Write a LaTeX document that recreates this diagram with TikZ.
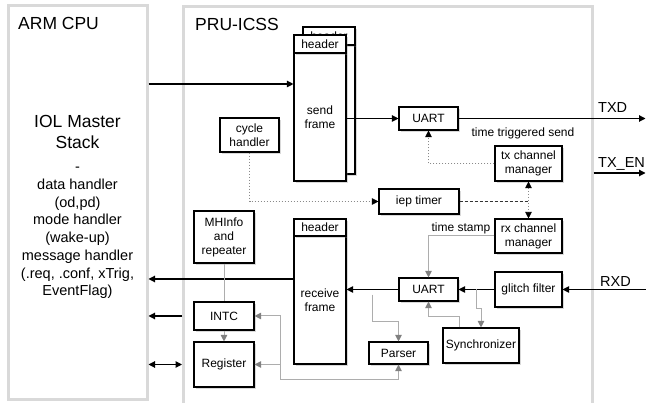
\documentclass[tikz,border=0pt]{standalone}
\usepackage{fontspec}
\setmainfont{Liberation Sans}
\usetikzlibrary{arrows.meta,shadows,calc}
\definecolor{frameg}{HTML}{D9D9D9}
\definecolor{lineg}{HTML}{ADADAD}
\definecolor{headg}{HTML}{808080}
\definecolor{dotg}{HTML}{8A8A8A}
\begin{document}
\begin{tikzpicture}[x=1pt,y=-1pt,
  blk/.style={draw=black, line width=1.1pt, fill=white, inner sep=0pt, align=center,
    font=\fontsize{12}{14}\selectfont,
    drop shadow={shadow xshift=1.6pt, shadow yshift=-1.6pt, opacity=0.3}},
  outer/.style={draw=frameg, line width=3pt, inner sep=0pt},
  ttl/.style={font=\fontsize{17.5}{21}\selectfont, inner sep=0pt},
  big/.style={font=\fontsize{17.5}{21}\selectfont, inner sep=0pt},
  small/.style={font=\fontsize{14.5}{18}\selectfont, inner sep=0pt},
  sig/.style={font=\fontsize{14.5}{18}\selectfont, inner sep=0pt},
  lbl/.style={font=\fontsize{12}{14}\selectfont, inner sep=0pt},
  arr/.style={line width=1.1pt, -{Triangle[length=6.5pt,width=6.5pt]}},
  darr/.style={line width=1.1pt, {Triangle[length=6.5pt,width=6.5pt]}-{Triangle[length=6.5pt,width=6.5pt]}},
  garr/.style={draw=lineg, line width=1pt, -{Triangle[length=6.5pt,width=6.5pt,color=headg]}},
  gline/.style={draw=lineg, line width=1pt},
  dotl/.style={draw=dotg, line width=0.8pt, dash pattern=on 1.5pt off 1.5pt, -{Triangle[length=6.5pt,width=6.5pt,color=black]}},
  ddotl/.style={draw=dotg, line width=0.8pt, dash pattern=on 1.5pt off 1.5pt, {Triangle[length=6.5pt,width=6.5pt,color=black]}-{Triangle[length=6.5pt,width=6.5pt,color=black]}},
  dashl/.style={draw=black!80, line width=0.8pt, dash pattern=on 3pt off 2pt}
]
\useasboundingbox (0,0) rectangle (646,403);
\clip (0,0) rectangle (646,403);

% outer frames
\node[outer, minimum width=139pt, minimum height=394pt] (arm) at (77.5,203) {};
\node[outer, minimum width=408.5pt, minimum height=403pt] (pru) at (387.75,208.5) {};
\node[ttl, anchor=west] (armt) at (18,23.5) {ARM CPU};
\node[ttl, anchor=west] (prut) at (195,24.5) {PRU-ICSS};

% ARM text
\foreach \t/\yy [count=\i] in {{IOL Master}/128, Stack/149}
  \node[big, anchor=base] (iol\i) at (77.5,\yy) {\t};
\foreach \t/\yy [count=\i] in {-/171.5, {data handler}/189.5, {(od,pd)}/207.3, {mode handler}/225,
  {(wake-up)}/242.8, {message handler}/260.5, {(.req, .conf, xTrig,}/278.3, {EventFlag)}/296}
  \node[small, anchor=base] (stk\i) at (77.5,\yy) {\t};

% send frame (stacked)
\node[blk, minimum width=52pt, minimum height=129pt] (sbackb) at (329,109.5) {};
\node[blk, minimum width=52pt, minimum height=18pt] (sbackh) at (329,36) {header};
\node[blk, minimum width=52pt, minimum height=128pt] (sendb) at (320,117) {send\\frame};
\node[blk, minimum width=52pt, minimum height=18pt] (sendh) at (320,44) {header};

% receive frame
\node[blk, minimum width=52pt, minimum height=128pt] (recvb) at (320,300) {receive\\frame};
\node[blk, minimum width=52pt, minimum height=17pt] (recvh) at (320,227.5) {header};

% blocks
\node[blk, minimum width=59pt, minimum height=23pt] (uart1) at (428.5,118.5) {UART};
\node[blk, minimum width=59pt, minimum height=34pt] (cycle) at (249.5,135) {cycle\\handler};
\node[blk, minimum width=67pt, minimum height=35pt] (tx) at (528.5,163.5) {tx channel\\manager};
\node[blk, minimum width=80pt, minimum height=25pt] (iep) at (419,201.5) {iep timer};
\node[blk, minimum width=67pt, minimum height=34pt] (rx) at (528.5,236) {rx channel\\manager};
\node[blk, minimum width=60pt, minimum height=52pt] (mh) at (224,237) {MHInfo\\and\\repeater};
\node[blk, minimum width=59pt, minimum height=23pt] (uart2) at (428.5,289.5) {UART};
\node[blk, minimum width=67pt, minimum height=35pt] (glitch) at (528.5,289.5) {glitch filter};
\node[blk, minimum width=60pt, minimum height=28pt] (intc) at (224,316) {INTC};
\node[blk, minimum width=60pt, minimum height=45pt] (reg) at (224,364.5) {Register};
\node[blk, minimum width=59pt, minimum height=22pt] (parser) at (398.5,353) {Parser};
\node[blk, minimum width=76pt, minimum height=35pt] (sync) at (481,345.5) {Synchronizer};

% labels
\node[lbl] (tts) at (523,133) {time triggered send};
\node[lbl] (tst) at (461,228) {time stamp};
\node[sig, anchor=west] (txdl) at (598,107.5) {TXD};
\node[sig, anchor=west] (txenl) at (598,164) {TX\_EN};
\node[sig, anchor=west] (rxdl) at (600,281.5) {RXD};

% black connectors
\coordinate (txd) at (645.5,118.5);
\coordinate (txen) at (645.5,173);
\coordinate (rxd) at (646,289.5);
\draw[arr] (arm.east |- 0,84) -- (sendb.west |- 0,84);
\draw[arr] (sendb.east |- uart1) -- (uart1.west);
\draw[arr] (uart1.east) -- (txd);
\draw[arr] (pru.east |- txen) -- (txen);
\draw[arr] (rxd) -- (glitch.east);
\draw[arr] (glitch.west) -- (uart2.east);
\draw[arr] (uart2.west) -- (recvb.east |- uart2);
\draw[arr] (recvb.west |- 0,279) -- (arm.east |- 0,279);
\draw[arr] (pru.west |- intc) -- (arm.east |- intc);
\draw[darr] (pru.west |- reg) -- (arm.east |- reg);

% dotted / dashed timing connectors
\draw[dotl] (cycle.south) |- (iep.west);
\draw[dashl] (iep.east) -- (tx.south |- iep.east);
\draw[ddotl] (tx.south) -- (rx.north);
\draw[dotl] (tx.west) -| (uart1.south);

% gray connectors
\draw[garr] (rx.west) -| (uart2.north);
\coordinate (g1) at ($(uart2.east)!0.5!(glitch.west)$);
\draw[garr] (g1) -- ++(0,19) -| (sync.north);
\draw[garr] (459,0 |- sync.north) -- (459,317) -| (uart2.south);
\coordinate (g2) at ($(recvb.east)!0.5!(uart2.west)$);
\draw[garr] (g2) -- ++(0,26.5) -| (parser.north);
\coordinate (bus) at (280,380);
\draw[garr] (bus) -| (parser.south);
\draw[garr] (bus) |- (intc.east);
\draw[garr] (bus |- reg.east) -- (reg.east);
\draw[gline] (mh.south) -- (intc.north);
\draw[garr] (intc.south) -- (reg.north);
\end{tikzpicture}
\end{document}
